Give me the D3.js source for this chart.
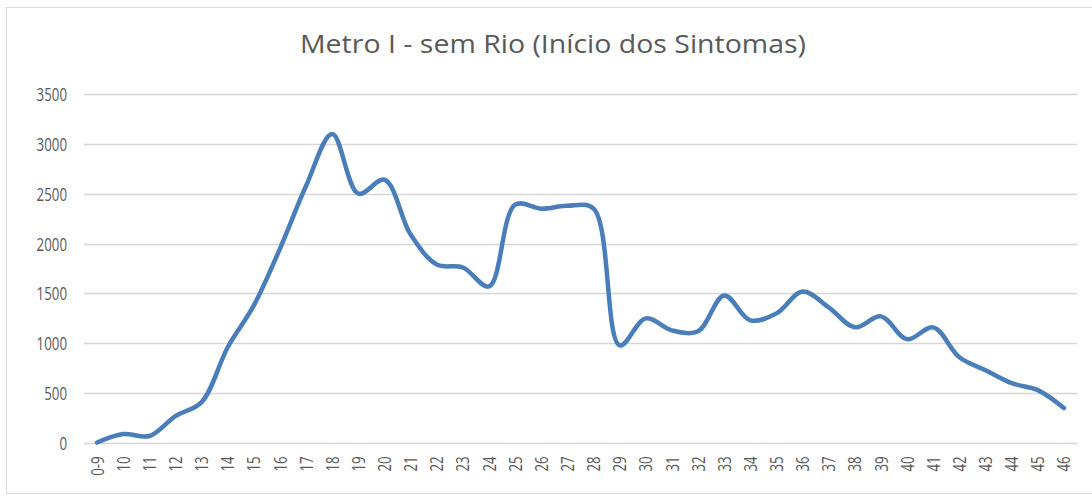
<!DOCTYPE html>
<html>
<head>
<meta charset="utf-8">
<script src="https://cdn.jsdelivr.net/npm/d3@7"></script>
<style>
  html, body { margin: 0; padding: 0; background: #fff; }
  svg { display: block; }
</style>
</head>
<body>
<svg id="chart" width="1092" height="497"></svg>
<script>
const title = "Metro I - sem Rio (Início dos Sintomas)";
const categories = ["0-9","10","11","12","13","14","15","16","17","18","19","20","21","22","23","24","25","26","27","28","29","30","31","32","33","34","35","36","37","38","39","40","41","42","43","44","45","46"];
const values = [5, 90, 70, 270, 410, 960, 1380, 1950, 2580, 3100, 2500, 2640, 2090, 1790, 1760, 1570, 2390, 2350, 2380, 2350, 980, 1250, 1130, 1120, 1480, 1230, 1300, 1520, 1360, 1160, 1270, 1040, 1160, 860, 730, 600, 530, 350];
const yTicks = [0, 500, 1000, 1500, 2000, 2500, 3000, 3500];

const svg = d3.select("#chart");
const W = 1092, H = 497;
const plot = { left: 84, right: 1077, top: 94, bottom: 443 };
const FONT = "'Open Sans', 'Liberation Sans', sans-serif";

// chart border
svg.append("rect")
  .attr("x", 6.5).attr("y", 7.5)
  .attr("width", W - 6).attr("height", 486)
  .attr("fill", "#fff").attr("stroke", "#d9d9d9").attr("stroke-width", 1);

const x = d3.scaleBand().domain(categories).range([plot.left, plot.right]).padding(0);
const y = d3.scaleLinear().domain([0, 3500]).range([plot.bottom, plot.top]);

// gridlines
svg.append("g")
  .selectAll("line")
  .data(yTicks)
  .join("line")
  .attr("x1", plot.left).attr("x2", plot.right)
  .attr("y1", d => Math.round(y(d)) + 0.5).attr("y2", d => Math.round(y(d)) + 0.5)
  .attr("stroke", "#d6d6d6").attr("stroke-width", 1.5);

// y axis labels
const yAxis = d3.axisLeft(y).tickValues(yTicks).tickFormat(d3.format("d")).tickSize(0).tickPadding(0);
const gy = svg.append("g").attr("transform", `translate(${plot.left - 17},0)`).call(yAxis);
gy.select(".domain").remove();
gy.selectAll("text")
  .attr("fill", "#595959")
  .attr("x", 0)
  .attr("dy", "0.36em")
  .attr("transform", "scale(0.95,1.3)")
  .style("font-family", FONT)
  .style("font-size", "14px");

// x axis labels
const xAxis = d3.axisBottom(x).tickSize(0).tickPadding(0);
const gx = svg.append("g").attr("transform", `translate(0,${plot.bottom})`).call(xAxis);
gx.select(".domain").remove();
gx.selectAll("text")
  .attr("fill", "#595959")
  .style("font-family", FONT)
  .style("font-size", "14px")
  .attr("transform", "rotate(-90) scale(0.95,1.3)")
  .attr("text-anchor", "end")
  .attr("x", -14)
  .attr("y", 0)
  .attr("dy", "0.36em");

// line
const line = d3.line()
  .x((d, i) => x(categories[i]) + x.bandwidth() / 2)
  .y(d => y(d))
  .curve(d3.curveCatmullRom.alpha(0.5));

svg.append("path")
  .datum(values)
  .attr("d", line)
  .attr("fill", "none")
  .attr("stroke", "#4a7ebb")
  .attr("stroke-width", 4.5)
  .attr("stroke-linecap", "round")
  .attr("stroke-linejoin", "round");

// title
svg.append("text")
  .attr("x", 553).attr("y", 53)
  .attr("text-anchor", "middle")
  .attr("fill", "#595959")
  .attr("textLength", 506)
  .attr("lengthAdjust", "spacingAndGlyphs")
  .style("font-family", FONT)
  .style("font-size", "26px")
  .text(title);
</script>
</body>
</html>
